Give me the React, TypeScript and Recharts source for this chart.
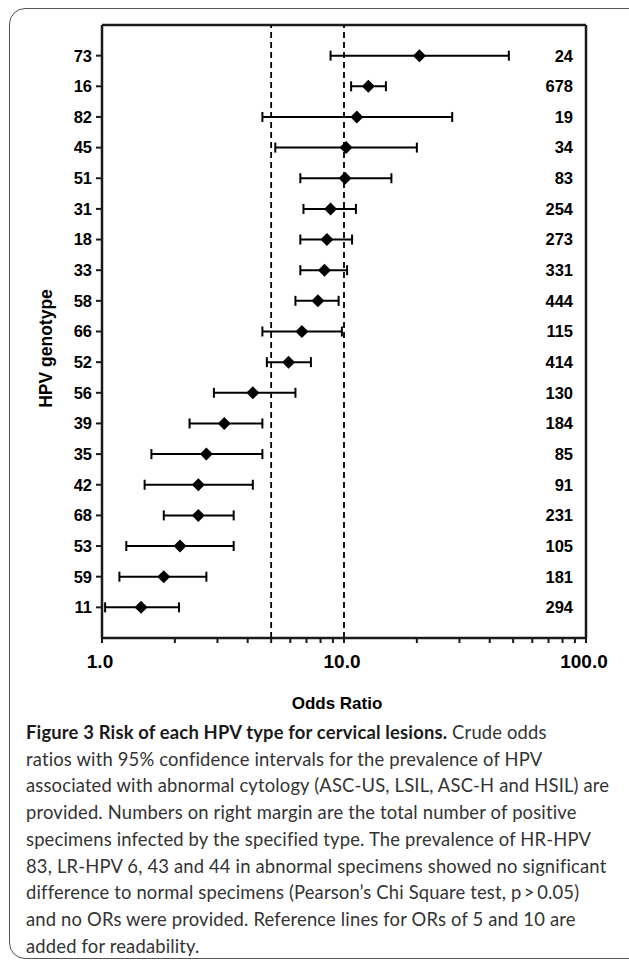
import {
  ComposedChart,
  Scatter,
  ErrorBar,
  XAxis,
  YAxis,
  ReferenceLine,
  Label,
} from 'recharts';

// rows from top to bottom
const genotypes = ['73', '16', '82', '45', '51', '31', '18', '33', '58', '66', '52', '56', '39', '35', '42', '68', '53', '59', '11'];
const oddsRatio = [20.5, 12.6, 11.3, 10.2, 10.1, 8.8, 8.5, 8.3, 7.8, 6.7, 5.9, 4.2, 3.2, 2.7, 2.5, 2.5, 2.1, 1.8, 1.45];
const ciLower = [8.8, 10.7, 4.6, 5.2, 6.6, 6.8, 6.6, 6.6, 6.3, 4.6, 4.8, 2.9, 2.3, 1.6, 1.5, 1.8, 1.26, 1.18, 1.03];
const ciUpper = [48, 14.9, 28, 20, 15.7, 11.2, 10.8, 10.3, 9.5, 9.8, 7.3, 6.3, 4.6, 4.6, 4.2, 3.5, 3.5, 2.7, 2.08];
const counts = [24, 678, 19, 34, 83, 254, 273, 331, 444, 115, 414, 130, 184, 85, 91, 231, 105, 181, 294];

const xTicks = [1, 2, 3, 4, 5, 6, 7, 8, 9, 10, 20, 30, 40, 50, 60, 70, 80, 90, 100];
const xLabels: Record<number, string> = { 1: '1.0', 10: '10.0', 100: '100.0' };
const refLines = [5, 10];

const n = genotypes.length;
const rows = genotypes.map((g, i) => ({
  row: n - i,
  genotype: g,
  or: oddsRatio[i],
  err: [oddsRatio[i] - ciLower[i], ciUpper[i] - oddsRatio[i]],
  count: counts[i],
}));
const rowTicks = rows.map((r) => r.row);
const byRow = (v: number) => rows.find((r) => r.row === v);

const FONT = '"Liberation Sans", Arial, sans-serif';
const INK = '#1a1a1a';

const Diamond = (p: any) => {
  const { cx, cy } = p;
  const s = 6.5;
  return <polygon points={`${cx},${cy - s} ${cx + s},${cy} ${cx},${cy + s} ${cx - s},${cy}`} fill="#000" />;
};

const captionLines = [
  'ratios with 95% confidence intervals for the prevalence of HPV',
  'associated with abnormal cytology (ASC-US, LSIL, ASC-H and HSIL) are',
  'provided. Numbers on right margin are the total number of positive',
  'specimens infected by the specified type. The prevalence of HR-HPV',
  '83, LR-HPV 6, 43 and 44 in abnormal specimens showed no significant',
  'difference to normal specimens (Pearson\u2019s Chi Square test, p\u2009>\u20090.05)',
  'and no ORs were provided. Reference lines for ORs of 5 and 10 are',
  'added for readability.',
];

export default function App() {
  return (
    <div style={{ position: 'absolute', left: 0, top: 0, width: 629, height: 964, overflow: 'hidden', background: '#fff' }}>
      <div
        style={{
          position: 'absolute',
          left: 9,
          top: 8,
          width: 650,
          height: 949,
          border: '1px solid #555',
          borderRadius: 16,
        }}
      />
      <div style={{ position: 'absolute', left: 0, top: 0 }}>
        <ComposedChart width={629} height={720} data={rows} margin={{ top: 25, right: 43, bottom: 52, left: 0 }}>
          <XAxis
            type="number"
            dataKey="or"
            scale="log"
            domain={[1, 100]}
            allowDataOverflow
            ticks={xTicks}
            interval={0}
            tickFormatter={(v: number) => xLabels[v] ?? ''}
            height={30}
            tickSize={5}
            tickMargin={12}
            axisLine={{ stroke: INK, strokeWidth: 2.5 }}
            tickLine={{ stroke: INK, strokeWidth: 2 }}
            tick={{ fill: '#000', fontSize: 19, fontWeight: 700, fontFamily: FONT, dx: -2 }}
          >
            <Label
              value="Odds Ratio"
              position="bottom"
              offset={29}
              dx={-7}
              style={{ fill: '#000', fontSize: 17, fontWeight: 700, fontFamily: FONT }}
            />
          </XAxis>
          <YAxis
            yAxisId="left"
            type="number"
            dataKey="row"
            domain={[0, 20]}
            ticks={rowTicks}
            interval={0}
            tickFormatter={(v: number) => byRow(v)?.genotype ?? ''}
            width={102}
            tickSize={6}
            tickMargin={4}
            axisLine={{ stroke: INK, strokeWidth: 2.5 }}
            tickLine={{ stroke: INK, strokeWidth: 2 }}
            tick={{ fill: '#000', fontSize: 16.5, fontWeight: 700, fontFamily: FONT }}
          >
            <Label
              content={(props: any) => {
                const vb = props.viewBox;
                const x = vb.x + 52;
                const y = vb.y + vb.height / 2 + 17;
                return (
                  <text
                    x={x}
                    y={y}
                    transform={`rotate(-90 ${x} ${y})`}
                    textAnchor="middle"
                    fill="#000"
                    fontSize={17.5}
                    fontWeight={700}
                    fontFamily={FONT}
                  >
                    HPV genotype
                  </text>
                );
              }}
            />
          </YAxis>
          <YAxis
            yAxisId="right"
            orientation="right"
            mirror
            type="number"
            dataKey="row"
            domain={[0, 20]}
            ticks={rowTicks}
            interval={0}
            tickFormatter={(v: number) => String(byRow(v)?.count ?? '')}
            tickSize={6}
            tickMargin={7}
            axisLine={false}
            tickLine={false}
            tick={{ fill: '#000', fontSize: 16.5, fontWeight: 700, fontFamily: FONT }}
          />
          {/* plot frame */}
          <ReferenceLine yAxisId="left" y={20} stroke={INK} strokeWidth={2.5} ifOverflow="visible" />
          <ReferenceLine yAxisId="left" x={100} stroke={INK} strokeWidth={2.5} ifOverflow="visible" />
          {refLines.map((v) => (
            <ReferenceLine key={v} yAxisId="left" x={v} stroke="#000" strokeWidth={1.8} strokeDasharray="6 4" />
          ))}
          <Scatter yAxisId="right" data={rows} dataKey="row" shape={() => <g />} isAnimationActive={false} />
          <Scatter yAxisId="left" data={rows} dataKey="row" shape={Diamond} isAnimationActive={false}>
            <ErrorBar dataKey="err" direction="x" width={5} stroke="#000" strokeWidth={2} isAnimationActive={false} />
          </Scatter>
        </ComposedChart>
      </div>
      <div
        style={{
          position: 'absolute',
          left: 26,
          top: 719,
          fontFamily: 'Lato, "Open Sans", sans-serif',
          fontSize: 18.4,
          letterSpacing: 0.17,
          lineHeight: '26.7px',
          color: '#333',
          whiteSpace: 'nowrap',
        }}
      >
        <div>
          <span style={{ fontWeight: 700, color: '#1a1a1a' }}>Figure 3 Risk of each HPV type for cervical lesions.</span> Crude odds
        </div>
        {captionLines.map((l, i) => (
          <div key={i}>{l}</div>
        ))}
      </div>
    </div>
  );
}
